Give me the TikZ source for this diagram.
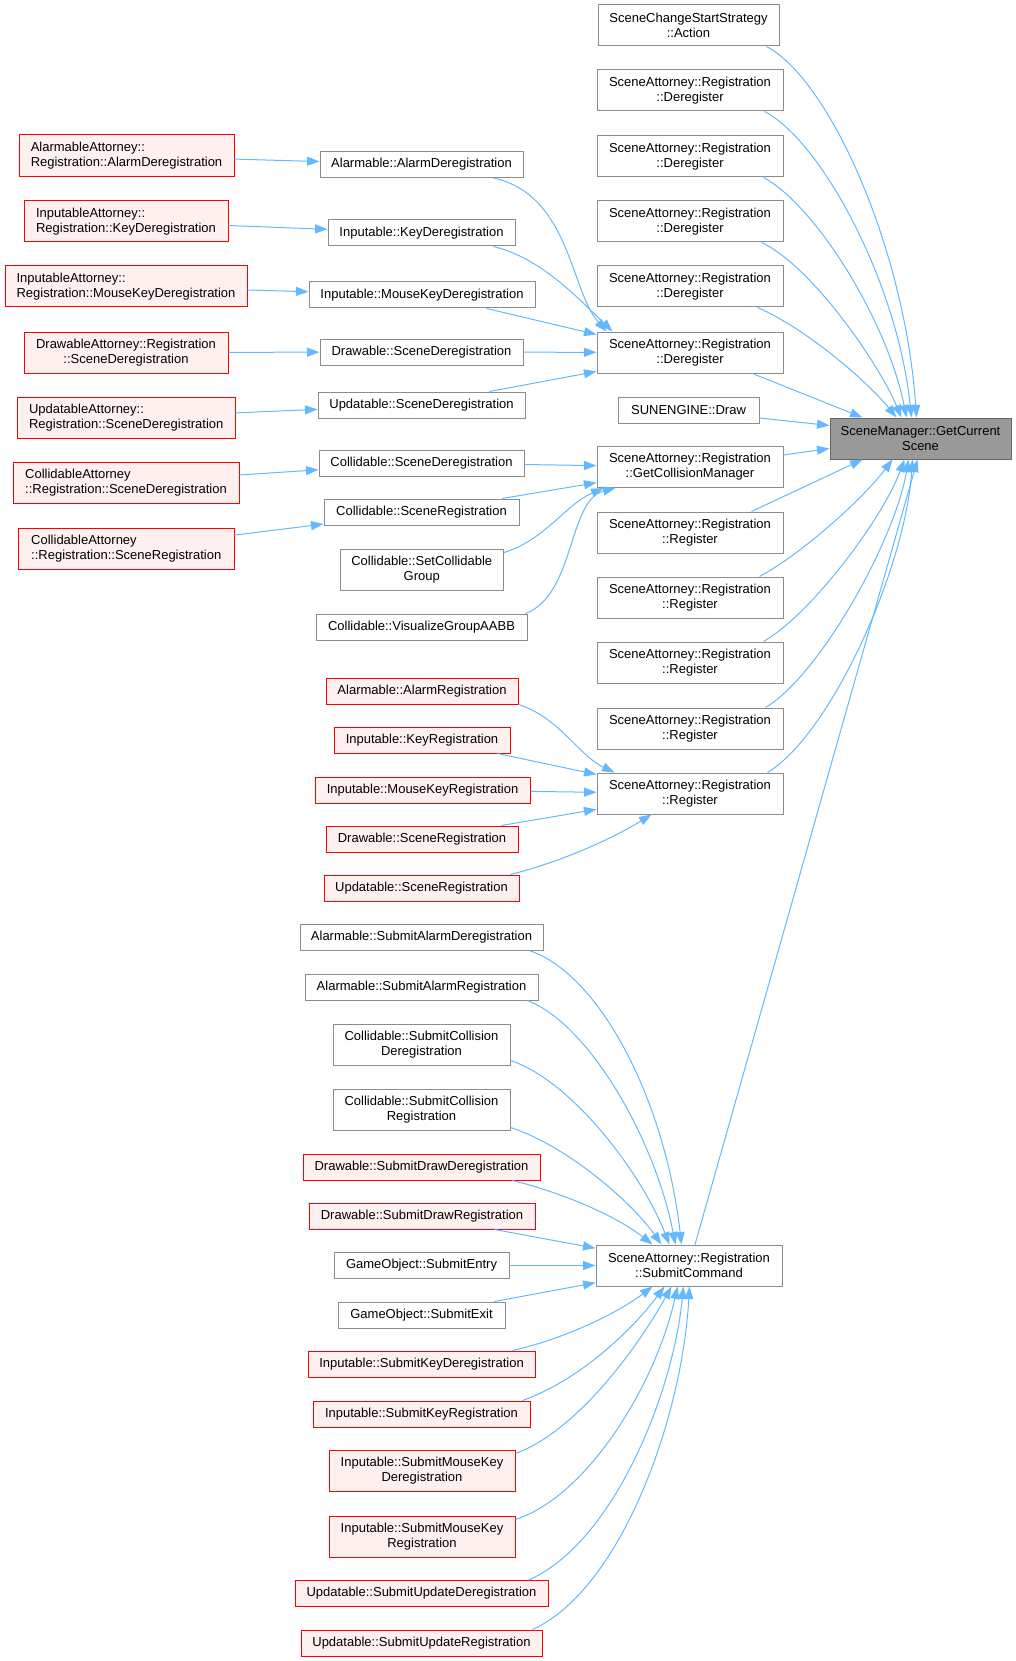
\documentclass[tikz,border=0pt]{standalone}
\usepackage{fontspec}
\setmainfont{Liberation Sans}
\usetikzlibrary{arrows.meta,calc}
\definecolor{edgeblue}{HTML}{63B8FF}
\definecolor{nodegray}{HTML}{8C8C8C}
\definecolor{redfill}{HTML}{FFF0F0}
\definecolor{curfill}{HTML}{999999}
\definecolor{curdraw}{HTML}{666666}
\tikzset{
  box/.style={draw=nodegray, line width=1pt, fill=white, inner sep=0pt,
    minimum height=26pt, align=center, font=\fontsize{13}{15}\selectfont},
  redbox/.style={box, draw=red, fill=redfill},
  curbox/.style={box, draw=curdraw, fill=curfill},
  link/.style={draw=edgeblue, line width=1pt, -{Triangle[length=12.5pt,width=9pt]}},
}
\begin{document}
\begin{tikzpicture}[x=1pt,y=-1pt]
\useasboundingbox (0,0) rectangle (1015,1661);
% right column
\node[box, minimum width=181pt, minimum height=41pt] (act) at (688.5,25.5) {SceneChangeStartStrategy\\::Action};
\node[box, minimum width=186pt, minimum height=41pt] (d1) at (690,90.5) {SceneAttorney::Registration\\::Deregister};
\node[box, minimum width=186pt, minimum height=41pt] (d2) at (690,156.5) {SceneAttorney::Registration\\::Deregister};
\node[box, minimum width=186pt, minimum height=41pt] (d3) at (690,221.5) {SceneAttorney::Registration\\::Deregister};
\node[box, minimum width=186pt, minimum height=41pt] (d4) at (690,286.5) {SceneAttorney::Registration\\::Deregister};
\node[box, minimum width=186pt, minimum height=41pt] (d5) at (690,352.5) {SceneAttorney::Registration\\::Deregister};
\node[box, minimum width=141pt] (drw) at (688.5,410) {SUNENGINE::Draw};
\node[box, minimum width=186pt, minimum height=41pt] (gcm) at (690,467) {SceneAttorney::Registration\\::GetCollisionManager};
\node[box, minimum width=186pt, minimum height=41pt] (r1) at (690,532.5) {SceneAttorney::Registration\\::Register};
\node[box, minimum width=186pt, minimum height=41pt] (r2) at (690,597.5) {SceneAttorney::Registration\\::Register};
\node[box, minimum width=186pt, minimum height=41pt] (r3) at (690,662.5) {SceneAttorney::Registration\\::Register};
\node[box, minimum width=186pt, minimum height=41pt] (r4) at (690,728.5) {SceneAttorney::Registration\\::Register};
\node[box, minimum width=186pt, minimum height=41pt] (r5) at (690,793.5) {SceneAttorney::Registration\\::Register};
\node[box, minimum width=186pt, minimum height=41pt] (sc) at (689,1265.5) {SceneAttorney::Registration\\::SubmitCommand};
\node[curbox, minimum width=181pt, minimum height=41pt] (gcs) at (920.5,438.5) {SceneManager::GetCurrent\\Scene};
% left column
\node[redbox, align=left, minimum width=215pt, minimum height=42pt] (aa) at (126.5,156) {AlarmableAttorney::\\Registration::AlarmDeregistration};
\node[redbox, align=left, minimum width=204pt, minimum height=41pt] (iak) at (126,221.5) {InputableAttorney::\\Registration::KeyDeregistration};
\node[redbox, align=left, minimum width=242pt, minimum height=41pt] (iamk) at (126,286.5) {InputableAttorney::\\Registration::MouseKeyDeregistration};
\node[redbox, minimum width=204pt, minimum height=41pt] (da) at (126,352.5) {DrawableAttorney::Registration\\::SceneDeregistration};
\node[redbox, align=left, minimum width=217.5pt, minimum height=41pt] (ua) at (126.25,417.5) {UpdatableAttorney::\\Registration::SceneDeregistration};
\node[redbox, align=left, minimum width=226pt, minimum height=41pt] (casd) at (126,482.5) {CollidableAttorney\\::Registration::SceneDeregistration};
\node[redbox, align=left, minimum width=215.5pt, minimum height=41pt] (casr) at (126.25,548.5) {CollidableAttorney\\::Registration::SceneRegistration};
% middle column
\node[box, minimum width=203pt] (aad) at (421.5,164.5) {Alarmable::AlarmDeregistration};
\node[box, minimum width=187pt] (ikd) at (421.5,233) {Inputable::KeyDeregistration};
\node[box, minimum width=226pt] (imkd) at (422,295) {Inputable::MouseKeyDeregistration};
\node[box, minimum width=203pt] (dsd) at (421.5,352) {Drawable::SceneDeregistration};
\node[box, minimum width=207pt] (usd) at (421.5,405) {Updatable::SceneDeregistration};
\node[box, minimum width=205pt] (csd) at (421.5,463) {Collidable::SceneDeregistration};
\node[box, minimum width=195pt] (csr) at (421.5,512) {Collidable::SceneRegistration};
\node[box, minimum width=163.5pt, minimum height=41pt] (cscg) at (421.75,569.5) {Collidable::SetCollidable\\Group};
\node[box, minimum width=211pt] (cvg) at (421.5,627) {Collidable::VisualizeGroupAABB};
\node[redbox, minimum width=192pt] (ar) at (422,691) {Alarmable::AlarmRegistration};
\node[redbox, minimum width=176pt] (ikr) at (422,740) {Inputable::KeyRegistration};
\node[redbox, minimum width=215pt] (imkr) at (422.5,790) {Inputable::MouseKeyRegistration};
\node[redbox, minimum width=192pt] (dsr) at (422,839) {Drawable::SceneRegistration};
\node[redbox, minimum width=195pt] (usr) at (421.5,888) {Updatable::SceneRegistration};
\node[box, minimum width=243pt] (sad) at (421.5,937.5) {Alarmable::SubmitAlarmDeregistration};
\node[box, minimum width=233pt] (sar) at (421.5,987) {Alarmable::SubmitAlarmRegistration};
\node[box, minimum width=177pt, minimum height=41pt] (scd) at (421.5,1044.5) {Collidable::SubmitCollision\\Deregistration};
\node[box, minimum width=177pt, minimum height=41pt] (scr) at (421.5,1109.5) {Collidable::SubmitCollision\\Registration};
\node[redbox, minimum width=237pt] (sdd) at (421.5,1167) {Drawable::SubmitDrawDeregistration};
\node[redbox, minimum width=226pt] (sdr) at (422,1216) {Drawable::SubmitDrawRegistration};
\node[box, minimum width=175pt] (se) at (421.5,1265.5) {GameObject::SubmitEntry};
\node[box, minimum width=167pt] (sx) at (421.5,1315) {GameObject::SubmitExit};
\node[redbox, minimum width=227pt] (skd) at (421.5,1364) {Inputable::SubmitKeyDeregistration};
\node[redbox, minimum width=217pt] (skr) at (421.5,1414) {Inputable::SubmitKeyRegistration};
\node[redbox, minimum width=186pt, minimum height=41pt] (smkd) at (422,1470.5) {Inputable::SubmitMouseKey\\Deregistration};
\node[redbox, minimum width=186pt, minimum height=41pt] (smkr) at (422,1536.5) {Inputable::SubmitMouseKey\\Registration};
\node[redbox, minimum width=253pt] (sud) at (421.5,1593.5) {Updatable::SubmitUpdateDeregistration};
\node[redbox, minimum width=241pt] (sur) at (421.5,1643) {Updatable::SubmitUpdateRegistration};
% edges into GetCurrentScene (top)
\draw[link] ($(act.south east)+(-13,0)$) .. controls (830,80) and (905,250) .. ($(gcs.north west)+(87,0)$);
\draw[link] ($(d1.south east)+(-19,0)$) .. controls (820,140) and (897,280) .. ($(gcs.north west)+(82,0)$);
\draw[link] ($(d2.south east)+(-20,0)$) .. controls (815,205) and (887,320) .. ($(gcs.north west)+(77,0)$);
\draw[link] ($(d3.south east)+(-22,0)$) .. controls (810,265) and (877,360) .. ($(gcs.north west)+(72,0)$);
\draw[link] ($(d4.south east)+(-26,0)$) .. controls (805,328) and (866,380) .. ($(gcs.north west)+(67,0)$);
\draw[link] ($(d5.south east)+(-31,0)$) -- ($(gcs.north west)+(33,0)$);
\draw[link] ($(drw.east)+(0,8)$) -- ($(gcs.west)+(0,-13)$);
\draw[link] ($(gcm.east)+(0,-12)$) -- ($(gcs.west)+(0,10)$);
% edges into GetCurrentScene (bottom)
\draw[link] ($(r1.north east)+(-32,0)$) -- ($(gcs.south west)+(33,0)$);
\draw[link] ($(r2.north east)+(-24,0)$) .. controls (800,555) and (862,500) .. ($(gcs.south west)+(63,0)$);
\draw[link] ($(r3.north east)+(-20,0)$) .. controls (810,615) and (882,520) .. ($(gcs.south west)+(75,0)$);
\draw[link] ($(r4.north east)+(-18,0)$) .. controls (820,675) and (895,540) .. ($(gcs.south west)+(79,0)$);
\draw[link] ($(r5.north east)+(-16,0)$) .. controls (830,735) and (905,570) .. ($(gcs.south west)+(83,0)$);
\draw[link] ($(sc.north)+(6,0)$) -- ($(gcs.south west)+(88,0)$);
% into Deregister
\draw[link] ($(aad.south east)+(-30,0)$) .. controls (570,195) and (570,290) .. ($(d5.north west)+(10,0)$);
\draw[link] ($(ikd.south east)+(-22,0)$) .. controls (540,258) and (575,295) .. ($(d5.north west)+(16,0)$);
\draw[link] ($(imkd.south east)+(-49,0)$) -- ($(d5.north west)+(0,3)$);
\draw[link] (dsd) -- (d5);
\draw[link] ($(usd.north east)+(-36,0)$) -- ($(d5.south west)+(0,-2)$);
% left red into middle
\draw[link] (aa) -- (aad);
\draw[link] (iak) -- (ikd);
\draw[link] (iamk) -- (imkd);
\draw[link] (da) -- (dsd);
\draw[link] (ua) -- (usd);
\draw[link] (casd) -- (csd);
\draw[link] (casr) -- (csr);
% into GetCollisionManager
\draw[link] (csd) -- (gcm);
\draw[link] (csr) -- (gcm);
\draw[link] ($(cscg.north east)+(0,4)$) .. controls (545,540) and (565,505) .. ($(gcm.south west)+(7,0)$);
\draw[link] ($(cvg.north east)+(-2,0)$) .. controls (575,595) and (568,500) .. ($(gcm.south west)+(19,0)$);
% into Register
\draw[link] (ar.south east) .. controls (560,718) and (578,755) .. ($(r5.north west)+(18,0)$);
\draw[link] ($(ikr.south east)+(-13,0)$) -- ($(r5.north west)+(0,2)$);
\draw[link] (imkr) -- (r5);
\draw[link] (dsr) -- (r5);
\draw[link] ($(usr.north east)+(-9,0)$) .. controls (560,862) and (610,840) .. ($(r5.south west)+(55,0)$);
% into SubmitCommand (top)
\draw[link] ($(sad.south east)+(-13,0)$) .. controls (600,975) and (665,1100) .. ($(sc.north west)+(86,0)$);
\draw[link] ($(sar.south east)+(-11,0)$) .. controls (590,1025) and (655,1140) .. ($(sc.north west)+(80,0)$);
\draw[link] ($(scd.south east)+(0,-5)$) .. controls (570,1080) and (640,1170) .. ($(sc.north west)+(74,0)$);
\draw[link] ($(scr.south east)+(0,-3)$) .. controls (565,1145) and (630,1200) .. ($(sc.north west)+(66,0)$);
\draw[link] ($(sdd.south east)+(-28,0)$) .. controls (560,1192) and (615,1215) .. ($(sc.north west)+(57,0)$);
\draw[link] (sdr) -- (sc);
\draw[link] (se) -- (sc);
\draw[link] (sx) -- (sc);
% into SubmitCommand (bottom)
\draw[link] ($(skd.north east)+(-23,0)$) .. controls (560,1340) and (615,1315) .. ($(sc.south west)+(57,0)$);
\draw[link] ($(skr.north east)+(-8,0)$) .. controls (580,1380) and (632,1330) .. ($(sc.south west)+(69,0)$);
\draw[link] ($(smkd.north east)+(0,4)$) .. controls (580,1430) and (642,1340) .. ($(sc.south west)+(76,0)$);
\draw[link] ($(smkr.north east)+(0,4)$) .. controls (590,1495) and (657,1380) .. ($(sc.south west)+(82,0)$);
\draw[link] ($(sud.north east)+(-20,0)$) .. controls (610,1545) and (672,1400) .. ($(sc.south west)+(88,0)$);
\draw[link] ($(sur.north east)+(-10,0)$) .. controls (620,1590) and (682,1420) .. ($(sc.south west)+(94,0)$);
\end{tikzpicture}
\end{document}
